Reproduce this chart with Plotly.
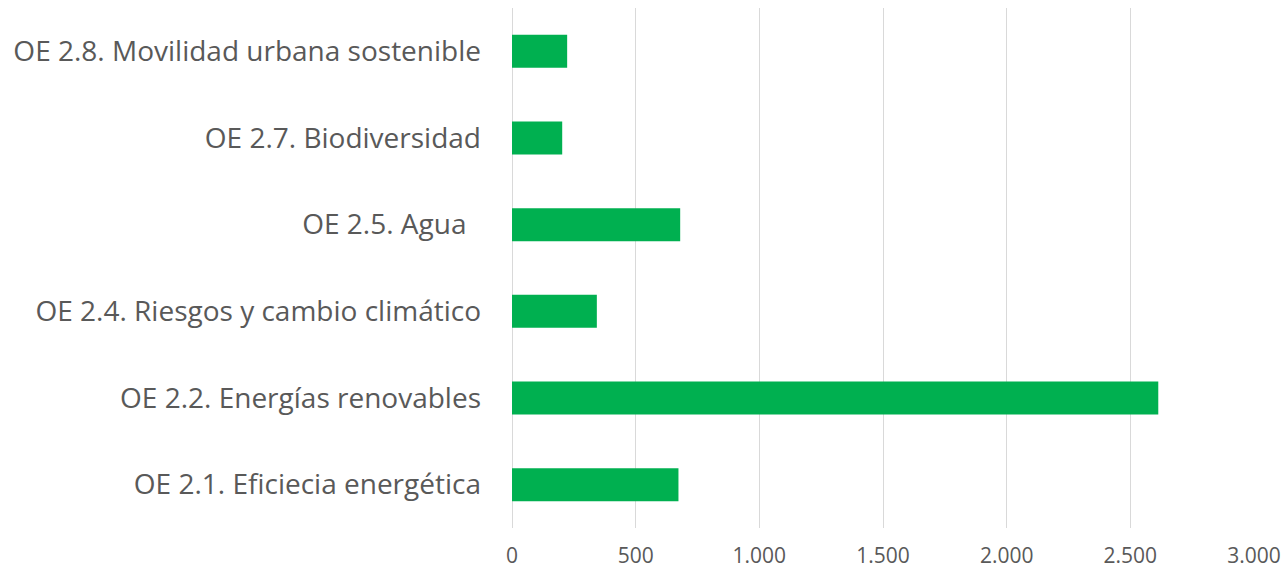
import plotly.graph_objects as go

categories = [
    "OE 2.1. Eficiecia energética",
    "OE 2.2. Energías renovables",
    "OE 2.4. Riesgos y cambio climático",
    "OE 2.5. Agua\u00a0\u00a0",
    "OE 2.7. Biodiversidad",
    "OE 2.8. Movilidad urbana sostenible",
]
values = [673, 2613, 343, 680, 203, 223]
tick_vals = [0, 500, 1000, 1500, 2000, 2500, 3000]
tick_text = ["0", "500", "1.000", "1.500", "2.000", "2.500", "3.000"]

fig = go.Figure(
    go.Bar(
        x=values,
        y=categories,
        orientation="h",
        marker=dict(color="#00b050", line=dict(width=0)),
        width=0.38,
    )
)

fig.update_layout(
    width=1285,
    height=572,
    margin=dict(l=512, r=31, t=8, b=44, autoexpand=False),
    paper_bgcolor="white",
    plot_bgcolor="white",
    showlegend=False,
    font=dict(family="Open Sans", color="#595959"),
)
fig.update_xaxes(
    range=[0, 3000],
    tickvals=tick_vals,
    ticktext=tick_text,
    showgrid=True,
    gridcolor="#d9d9d9",
    gridwidth=1.3,
    zeroline=True,
    zerolinecolor="#d9d9d9",
    zerolinewidth=1.3,
    showline=False,
    tickfont=dict(size=21, color="#595959"),
    ticklabelstandoff=13,
)
fig.update_yaxes(
    range=[-0.5, 5.5],
    showgrid=False,
    zeroline=False,
    showline=False,
    tickfont=dict(size=28, color="#595959"),
    ticklabelstandoff=30,
)

fig.write_html(
    "out.html",
    config={"displayModeBar": False},
    post_script="document.body.style.margin='0';document.body.style.overflow='hidden';",
)
